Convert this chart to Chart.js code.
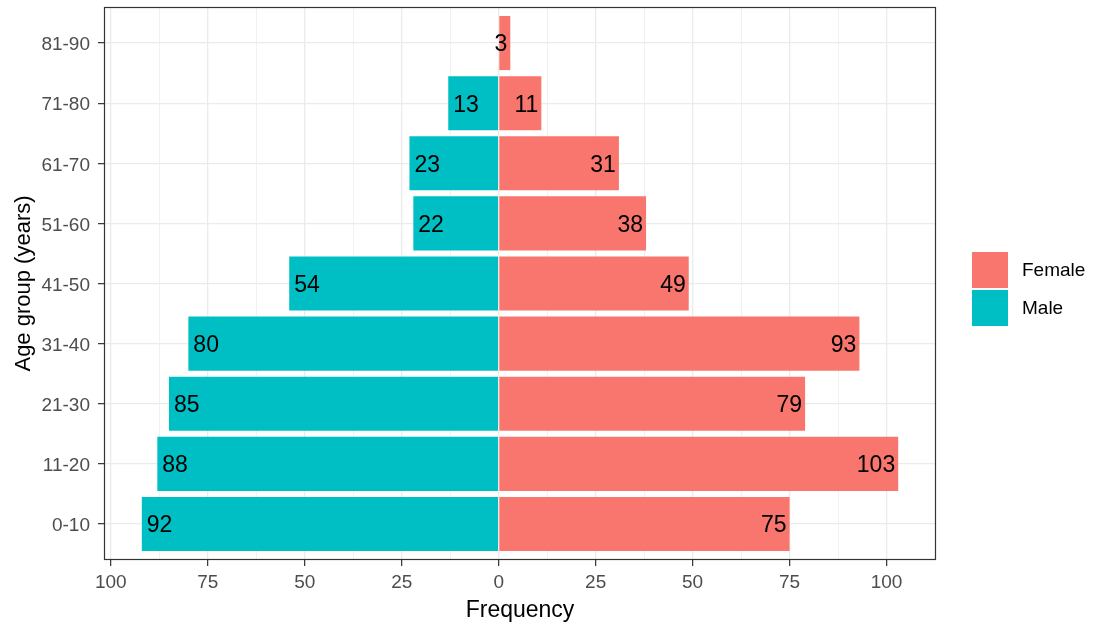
<!DOCTYPE html>
<html>
<head>
<meta charset="utf-8">
<script src="https://cdn.jsdelivr.net/npm/chart.js@4.4.1/dist/chart.umd.min.js"></script>
<style>
  body { margin: 0; background: #fff; }
  #wrap { width: 1097px; height: 627px; }
</style>
</head>
<body>
<div id="wrap"><canvas id="pyramid" width="1097" height="627"></canvas></div>
<script>
// age groups from youngest (bottom) to oldest (top)
const ageGroups = ['0-10', '11-20', '21-30', '31-40', '41-50', '51-60', '61-70', '71-80', '81-90'];
const femaleCounts = [75, 103, 79, 93, 49, 38, 31, 11, 3];
const maleCounts = [92, 88, 85, 80, 54, 22, 23, 13, null];
const xTicks = [-100, -75, -50, -25, 0, 25, 50, 75, 100];

const femaleColor = '#F8766D';
const maleColor = '#00BFC4';
const fontFam = '"Liberation Sans", Arial, sans-serif';

function toPoints(values, sign) {
    let pts = [];
    values.forEach(function (v, i) {
        if (v !== null) pts.push({ x: sign * v, y: i });
    });
    return pts;
}

// value labels at the end of each bar
const barLabels = {
    id: 'barLabels',
    afterDatasetsDraw(chart) {
        const ctx = chart.ctx;
        ctx.save();
        ctx.font = '23px ' + fontFam;
        ctx.fillStyle = '#000';
        ctx.textBaseline = 'middle';
        chart.data.datasets.forEach(function (ds, di) {
            const meta = chart.getDatasetMeta(di);
            meta.data.forEach(function (bar, i) {
                const v = Math.abs(ds.data[i].x);
                if (ds.label === 'Female') {
                    ctx.textAlign = 'right';
                    ctx.fillText(v, bar.x - 3, bar.y + 2);
                } else {
                    ctx.textAlign = 'left';
                    ctx.fillText(v, bar.x + 5, bar.y + 2);
                }
            });
        });
        // panel border
        const a = chart.chartArea;
        ctx.strokeStyle = '#333333';
        ctx.lineWidth = 1.2;
        ctx.strokeRect(a.left + 0.5, a.top + 0.5, a.right - a.left - 1, a.bottom - a.top - 1);
        ctx.restore();
    },
    afterDraw(chart) {
        // legend on the right
        const ctx = chart.ctx;
        const items = [['Female', femaleColor], ['Male', maleColor]];
        ctx.save();
        ctx.font = '19px ' + fontFam;
        ctx.textBaseline = 'middle';
        ctx.textAlign = 'left';
        items.forEach(function (it, k) {
            const y = 252 + k * 38;
            ctx.fillStyle = it[1];
            ctx.fillRect(972, y, 36, 36);
            ctx.fillStyle = '#000';
            ctx.fillText(it[0], 1022, y + 19);
        });
        ctx.restore();
    }
};

const canvas = document.getElementById('pyramid');
const chart = new Chart(canvas.getContext('2d'), {
    type: 'bar',
    data: {
        datasets: [
            {
                label: 'Female',
                data: toPoints(femaleCounts, 1),
                backgroundColor: femaleColor,
                borderWidth: 0,
            },
            {
                label: 'Male',
                data: toPoints(maleCounts, -1),
                backgroundColor: maleColor,
                borderWidth: 0,
            },
        ],
    },
    options: {
        indexAxis: 'y',
        responsive: false,
        animation: false,
        devicePixelRatio: 1,
        categoryPercentage: 0.9,
        barPercentage: 1,
        layout: { padding: { left: 0, top: 7, right: 161, bottom: 0 } },
        plugins: {
            legend: { display: false },
            tooltip: { enabled: false },
        },
        scales: {
            x: {
                type: 'linear',
                stacked: true,
                min: -101.75,
                max: 112.75,
                afterFit: function (s) {
                    s.height = 67;
                    s.paddingLeft = 0;
                    s.paddingRight = 0;
                },
                border: { display: false },
                grid: {
                    color: '#EBEBEB',
                    lineWidth: function (c) { return c.tick && c.tick.value % 25 === 0 ? 1.3 : 0.7; },
                    tickColor: function (c) { return c.tick && c.tick.value % 25 === 0 ? '#333333' : 'rgba(0,0,0,0)'; },
                    tickLength: 6,
                    tickWidth: 1.2,
                },
                ticks: {
                    stepSize: 12.5,
                    includeBounds: false,
                    autoSkip: false,
                    maxRotation: 0,
                    padding: 5,
                    color: '#4D4D4D',
                    font: { family: fontFam, size: 19 },
                    callback: function (v) { return xTicks.includes(v) ? String(Math.abs(v)) : ''; },
                },
                title: {
                    display: true,
                    text: 'Frequency',
                    color: '#000',
                    font: { family: fontFam, size: 23 },
                    padding: { top: 0, bottom: 3 },
                },
            },
            y: {
                type: 'linear',
                stacked: true,
                offset: false,
                min: -0.6,
                max: 8.6,
                afterFit: function (s) {
                    s.width = 104;
                    s.paddingTop = 0;
                    s.paddingBottom = 0;
                },
                border: { display: false },
                grid: {
                    offset: false,
                    color: '#EBEBEB',
                    lineWidth: 1.3,
                    tickColor: '#333333',
                    tickLength: 6,
                    tickWidth: 1.2,
                },
                ticks: {
                    stepSize: 1,
                    includeBounds: false,
                    autoSkip: false,
                    padding: 8,
                    labelOffset: 2,
                    color: '#4D4D4D',
                    font: { family: fontFam, size: 19 },
                    callback: function (v) { return ageGroups[v] !== undefined ? ageGroups[v] : ''; },
                },
                title: {
                    display: true,
                    text: 'Age group (years)',
                    color: '#000',
                    font: { family: fontFam, size: 22 },
                    padding: { top: 11, bottom: 0 },
                },
            },
        },
    },
    plugins: [barLabels],
});
</script>
</body>
</html>
